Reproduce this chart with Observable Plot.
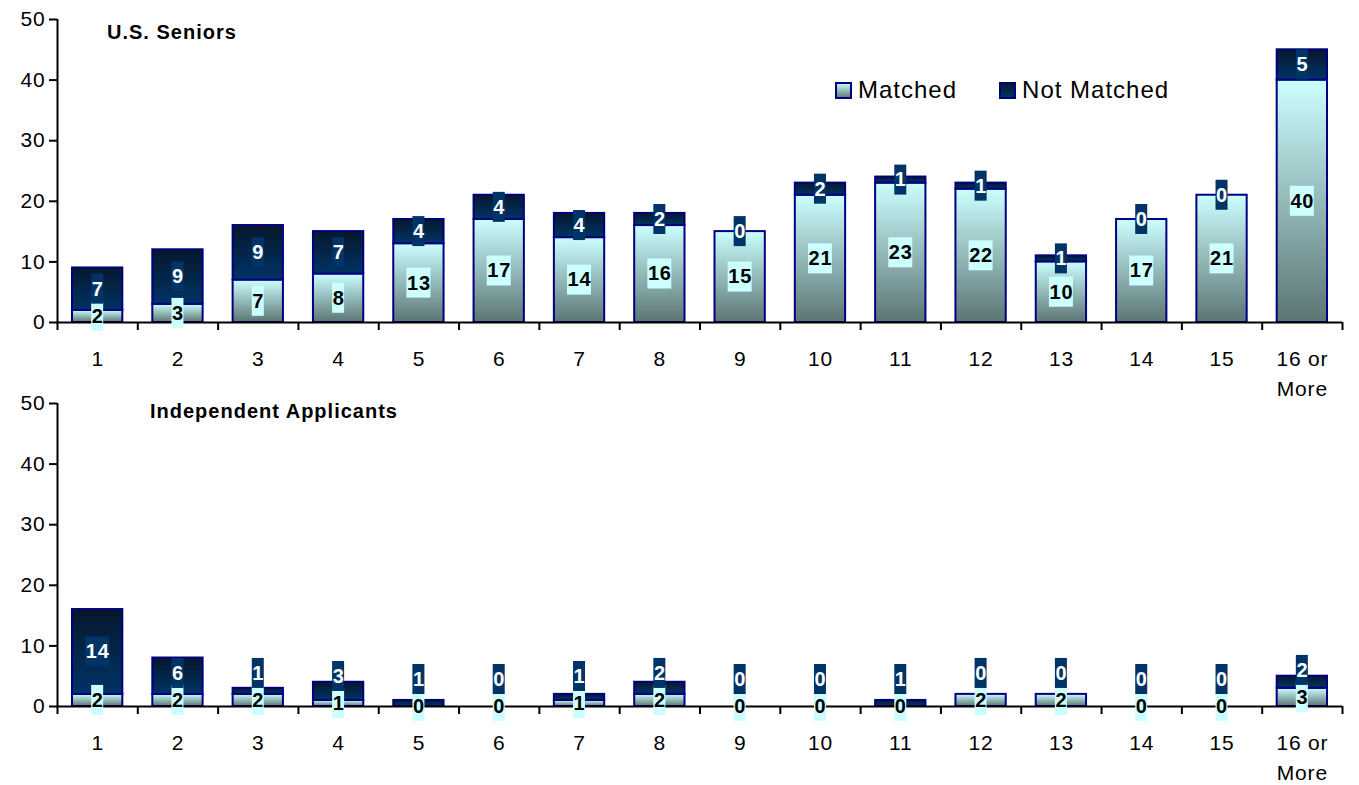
<!DOCTYPE html>
<html>
<head>
<meta charset="utf-8">
<script src="https://cdn.jsdelivr.net/npm/d3@7"></script>
<script src="https://cdn.jsdelivr.net/npm/@observablehq/plot@0.6"></script>
<style>
  body { margin: 0; background: #fff; font-family: "Liberation Sans", Arial, sans-serif; }
  #wrap { position: relative; width: 1359px; height: 785px; overflow: hidden; }
  .panel { position: absolute; left: 0; }
  .title { position: absolute; font-weight: bold; font-size: 20px; line-height: 20px; letter-spacing: 1px; color: #000; white-space: nowrap; }
  .legend { position: absolute; left: 835px; top: 76px; display: flex; align-items: center; font-size: 24px; letter-spacing: 1px; color: #000; white-space: nowrap; }
  .legend .item { display: flex; align-items: center; }
  .legend svg { margin-right: 6px; }
  svg text { letter-spacing: 0.8px; }
</style>
</head>
<body>
<svg width="0" height="0" style="position:absolute">
  <defs>
    <linearGradient id="gM" x1="0" y1="0" x2="0" y2="1">
      <stop offset="0" stop-color="#ccffff"/>
      <stop offset="1" stop-color="#5c7474"/>
    </linearGradient>
    <linearGradient id="gN" x1="0" y1="0" x2="0" y2="1">
      <stop offset="0" stop-color="#07172c"/>
      <stop offset="1" stop-color="#003366"/>
    </linearGradient>
  </defs>
</svg>
<div id="wrap"></div>
<script>
// ---------- data ----------
const categories = ["1","2","3","4","5","6","7","8","9","10","11","12","13","14","15","16 or\nMore"];
const seniorsMatched    = [2, 3, 7, 8, 13, 17, 14, 16, 15, 21, 23, 22, 10, 17, 21, 40];
const seniorsNotMatched = [7, 9, 9, 7, 4, 4, 4, 2, 0, 2, 1, 1, 1, 0, 0, 5];
const indepMatched      = [2, 2, 2, 1, 0, 0, 1, 2, 0, 0, 0, 2, 2, 0, 0, 3];
const indepNotMatched   = [14, 6, 1, 3, 1, 0, 1, 2, 0, 0, 1, 0, 0, 0, 0, 2];
const yTicks = [0, 10, 20, 30, 40, 50];
const seriesNames = ["Matched", "Not Matched"];
const panelTitles = ["U.S. Seniors", "Independent Applicants"];

// ---------- styles ----------
const W = 1359, mL = 57, mR = 17;
const barStroke = "#000080";
const font = "'Liberation Sans', Arial, sans-serif";
const boxLight = "#ccffff", boxDark = "#003366";

function labelMarks(labels, boxColor, textColor) {
  const marks = [];
  [1, 2].forEach(digits => {
    const half = digits * 6;
    marks.push(Plot.rect(labels.filter(d => String(d.v).length === digits), {
      x1: r => r.i + 0.5, x2: r => r.i + 0.5, y1: "y", y2: "y",
      insetLeft: -half, insetRight: -half, insetTop: -15, insetBottom: -15,
      fill: boxColor
    }));
  });
  marks.push(Plot.text(labels, {x: r => r.i + 0.5, y: "y", text: r => String(r.v), fill: textColor, fontWeight: "bold", fontSize: 20}));
  return marks;
}

function makePanel(matched, notMatched, height, mT, mB) {
  const pxPerUnit = (height - mT - mB) / 50;
  const rows = categories.map((c, i) => ({i, c, m: matched[i], n: notMatched[i]}));
  const labelsM = rows.map(r => ({i: r.i, v: r.m, y: r.m / 2}));
  const labelsN = rows.map(r => ({i: r.i, v: r.n, y: Math.max(r.m + r.n / 2, r.m / 2 + 27 / pxPerUnit)}));
  return Plot.plot({
    width: W, height,
    marginLeft: mL, marginRight: mR, marginTop: mT, marginBottom: mB,
    style: {background: "transparent", overflow: "visible", fontFamily: font, color: "#000"},
    x: {domain: [0, categories.length], axis: null},
    y: {domain: [0, 50], axis: null},
    marks: [
      Plot.rect(rows.filter(r => r.m > 0), {x1: "i", x2: r => r.i + 1, y1: 0, y2: "m", insetLeft: 15, insetRight: 15, fill: "url(#gM)", stroke: barStroke, strokeWidth: 2}),
      Plot.rect(rows.filter(r => r.n > 0), {x1: "i", x2: r => r.i + 1, y1: "m", y2: r => r.m + r.n, insetLeft: 15, insetRight: 15, fill: "url(#gN)", stroke: barStroke, strokeWidth: 2}),
      Plot.ruleY([0], {stroke: "#000", strokeWidth: 2}),
      Plot.ruleX([0], {y1: 0, y2: 50, stroke: "#000", strokeWidth: 2}),
      Plot.axisY({ticks: yTicks, tickSize: 8, tickPadding: 4, fontSize: 21, strokeWidth: 2, label: null}),
      Plot.axisX({ticks: d3.range(categories.length + 1), tickSize: 8, tickFormat: () => "", strokeWidth: 2, label: null}),
      Plot.text(rows, {x: r => r.i + 0.5, y: 0, text: "c", dy: 23, lineAnchor: "top", fontSize: 21, lineHeight: 1.4, fill: "#000"}),
      ...labelMarks(labelsM, boxLight, "#000"),
      ...labelMarks(labelsN, boxDark, "#fff")
    ]
  });
}

const wrap = document.getElementById("wrap");
const panels = [
  {m: seniorsMatched, n: seniorsNotMatched, top: 0, h: 400, mT: 19, mB: 78, title: panelTitles[0], tl: 107, tt: 22},
  {m: indepMatched, n: indepNotMatched, top: 384, h: 401, mT: 19, mB: 79, title: panelTitles[1], tl: 150, tt: 401}
];
panels.forEach(p => {
  const div = document.createElement("div");
  div.className = "panel";
  div.style.top = p.top + "px";
  div.appendChild(makePanel(p.m, p.n, p.h, p.mT, p.mB));
  wrap.appendChild(div);
  const t = document.createElement("div");
  t.className = "title";
  t.style.left = p.tl + "px";
  t.style.top = p.tt + "px";
  t.textContent = p.title;
  wrap.appendChild(t);
});

// legend
const legend = document.createElement("div");
legend.className = "legend";
seriesNames.forEach((name, k) => {
  const item = document.createElement("div");
  item.className = "item";
  if (k > 0) item.style.marginLeft = "42px";
  const sw = document.createElementNS("http://www.w3.org/2000/svg", "svg");
  sw.setAttribute("width", 17); sw.setAttribute("height", 17);
  const rc = document.createElementNS("http://www.w3.org/2000/svg", "rect");
  rc.setAttribute("x", 1); rc.setAttribute("y", 1); rc.setAttribute("width", 15); rc.setAttribute("height", 15);
  rc.setAttribute("fill", k === 0 ? "url(#gM)" : "url(#gN)");
  rc.setAttribute("stroke", barStroke); rc.setAttribute("stroke-width", 2);
  sw.appendChild(rc);
  item.appendChild(sw);
  const tx = document.createElement("span");
  tx.textContent = name;
  item.appendChild(tx);
  legend.appendChild(item);
});
wrap.appendChild(legend);
</script>
</body>
</html>
